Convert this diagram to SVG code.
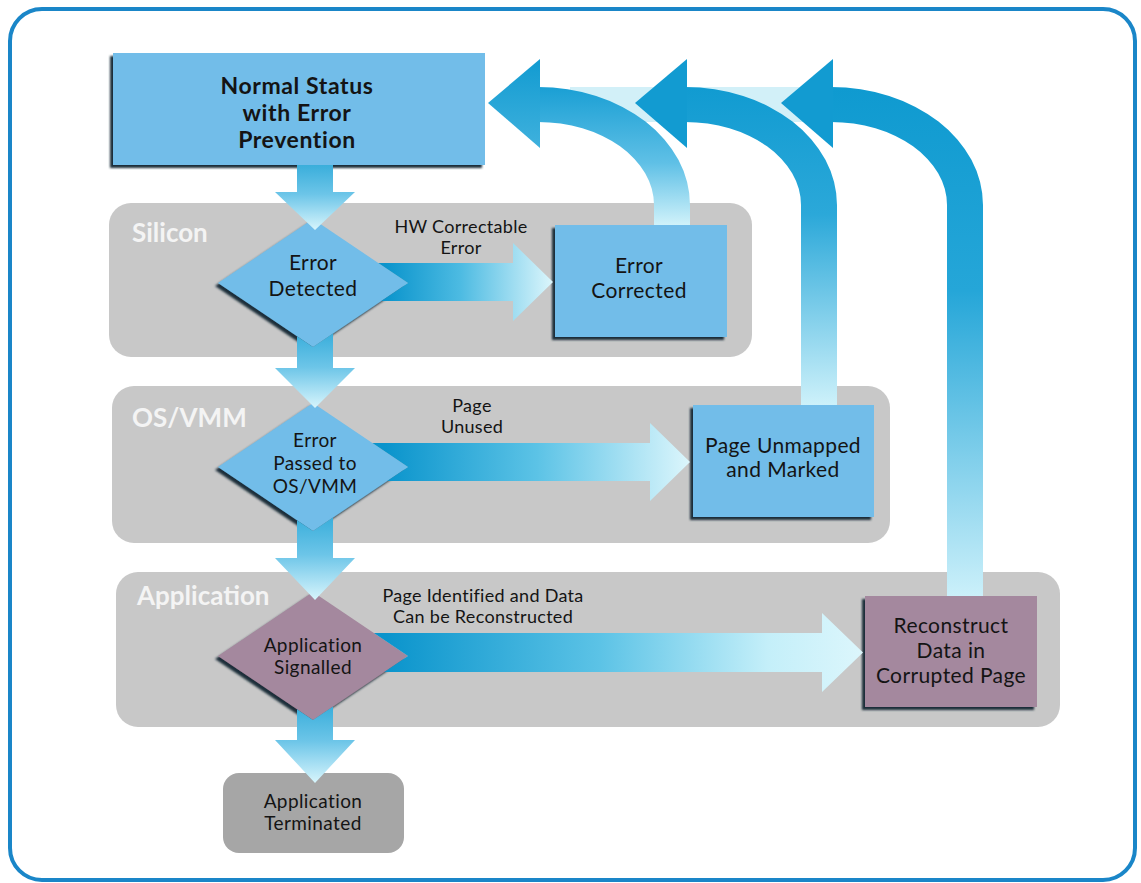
<svg xmlns="http://www.w3.org/2000/svg" width="1141" height="883" viewBox="0 0 1141 883">
  <style>
    .lane { fill: #c8c8c8; }
    .lane-label { font-family: Lato, "Liberation Sans", sans-serif; font-weight: 700; font-size: 26px; fill: #f4f4f4; }
    .node-text { font-family: Lato, "Liberation Sans", sans-serif; font-size: 21px; letter-spacing: 0.4px; fill: #141414; text-anchor: middle; }
    .small { font-size: 19px; }
    .title { font-weight: 700; font-size: 23px; letter-spacing: 0.6px; }
    .edge-label { font-family: Lato, "Liberation Sans", sans-serif; font-size: 18px; letter-spacing: 0.3px; fill: #141414; text-anchor: middle; }
    .blue { fill: #72bde9; }
    .mauve { fill: #a4889e; }
    .head { fill: #129bd1; }
  </style>
  <defs>
    <filter id="bevel" x="-10%" y="-10%" width="120%" height="125%">
      <feGaussianBlur in="SourceAlpha" stdDeviation="1.2" result="b"/>
      <feOffset in="b" dx="-3" dy="3" result="o"/>
      <feFlood flood-color="#1c2f3a"/>
      <feComposite in2="o" operator="in" result="s"/>
      <feMerge><feMergeNode in="s"/><feMergeNode in="SourceGraphic"/></feMerge>
    </filter>
    <linearGradient id="down" x1="0" y1="0" x2="0" y2="1">
      <stop offset="0" stop-color="#3aaedb"/>
      <stop offset="0.45" stop-color="#6cc5e8"/>
      <stop offset="1" stop-color="#d8f5fc"/>
    </linearGradient>
    <linearGradient id="h1" gradientUnits="userSpaceOnUse" x1="385" y1="0" x2="553" y2="0">
      <stop offset="0" stop-color="#0a94cc"/>
      <stop offset="0.45" stop-color="#4dbbe2"/>
      <stop offset="1" stop-color="#dcf6fc"/>
    </linearGradient>
    <linearGradient id="h2" gradientUnits="userSpaceOnUse" x1="385" y1="0" x2="690" y2="0">
      <stop offset="0" stop-color="#0a94cc"/>
      <stop offset="0.5" stop-color="#5cc3e6"/>
      <stop offset="1" stop-color="#dcf6fc"/>
    </linearGradient>
    <linearGradient id="h3" gradientUnits="userSpaceOnUse" x1="385" y1="0" x2="863" y2="0">
      <stop offset="0" stop-color="#0a94cc"/>
      <stop offset="0.45" stop-color="#5cc3e6"/>
      <stop offset="0.8" stop-color="#c4eff9"/>
      <stop offset="1" stop-color="#dcf6fc"/>
    </linearGradient>
    <linearGradient id="r1" gradientUnits="userSpaceOnUse" x1="0" y1="87" x2="0" y2="225">
      <stop offset="0" stop-color="#1a9fd4"/>
      <stop offset="0.55" stop-color="#5fc0e6"/>
      <stop offset="1" stop-color="#d0f2fa"/>
    </linearGradient>
    <linearGradient id="r2" gradientUnits="userSpaceOnUse" x1="0" y1="87" x2="0" y2="405">
      <stop offset="0" stop-color="#119bd1"/>
      <stop offset="0.4" stop-color="#2ba8d9"/>
      <stop offset="1" stop-color="#cdf1fa"/>
    </linearGradient>
    <linearGradient id="r3" gradientUnits="userSpaceOnUse" x1="0" y1="87" x2="0" y2="596">
      <stop offset="0" stop-color="#0f9ad0"/>
      <stop offset="0.4" stop-color="#25a6d8"/>
      <stop offset="1" stop-color="#cbf0fa"/>
    </linearGradient>
    <linearGradient id="head1" x1="0" y1="0" x2="0" y2="1">
      <stop offset="0" stop-color="#129bd1"/>
      <stop offset="1" stop-color="#3fb1dd"/>
    </linearGradient>
  </defs>

  <!-- outer frame -->
  <rect x="10" y="9" width="1125" height="871" rx="32" fill="#ffffff" stroke="#1a86c8" stroke-width="4"/>

  <!-- swim lanes -->
  <g id="lane-silicon">
    <rect class="lane" x="109" y="203" width="643" height="154" rx="22"/>
    <text class="lane-label" x="132" y="242">Silicon</text>
  </g>
  <g id="lane-os-vmm">
    <rect class="lane" x="112" y="386" width="778" height="157" rx="22"/>
    <text class="lane-label" x="132" y="427">OS/VMM</text>
  </g>
  <g id="lane-application">
    <rect class="lane" x="116" y="572" width="944" height="155" rx="22"/>
    <text class="lane-label" x="137" y="605">Application</text>
  </g>

  <!-- nodes -->
  <g id="node-normal-status">
    <rect class="blue" x="113" y="53" width="372" height="112" filter="url(#bevel)"/>
    <text class="node-text title" x="297" y="94">Normal Status</text>
    <text class="node-text title" x="297" y="121">with Error</text>
    <text class="node-text title" x="297" y="148">Prevention</text>
  </g>
  <g id="node-error-detected">
    <polygon class="blue" points="313,219 408,283 313,347 218,283" filter="url(#bevel)"/>
    <text class="node-text" x="313" y="270">Error</text>
    <text class="node-text" x="313" y="296">Detected</text>
  </g>
  <g id="node-error-corrected">
    <rect class="blue" x="555" y="225" width="172" height="112" filter="url(#bevel)"/>
    <text class="node-text" x="639" y="273">Error</text>
    <text class="node-text" x="639" y="298">Corrected</text>
  </g>
  <g id="node-error-passed">
    <polygon class="blue" points="313,403 408,467 313,531 218,467" filter="url(#bevel)"/>
    <text class="node-text small" x="315" y="447">Error</text>
    <text class="node-text small" x="315" y="470">Passed to</text>
    <text class="node-text small" x="315" y="493">OS/VMM</text>
  </g>
  <g id="node-page-unmapped">
    <rect class="blue" x="693" y="405" width="181" height="112" filter="url(#bevel)"/>
    <text class="node-text" x="783" y="453">Page Unmapped</text>
    <text class="node-text" x="783" y="477">and Marked</text>
  </g>
  <g id="node-application-signalled">
    <polygon class="mauve" points="313,592 408,656 313,720 218,656" filter="url(#bevel)"/>
    <text class="node-text small" x="313" y="652">Application</text>
    <text class="node-text small" x="313" y="674">Signalled</text>
  </g>
  <g id="node-reconstruct">
    <rect class="mauve" x="865" y="596" width="172" height="111" filter="url(#bevel)"/>
    <text class="node-text" x="951" y="633">Reconstruct</text>
    <text class="node-text" x="951" y="658">Data in</text>
    <text class="node-text" x="951" y="683">Corrupted Page</text>
  </g>
  <g id="node-application-terminated">
    <rect x="223" y="773" width="181" height="80" rx="16" fill="#a6a6a6"/>
    <text class="node-text small" x="313" y="808">Application</text>
    <text class="node-text small" x="313" y="830">Terminated</text>
  </g>

  <!-- connectors -->
  <g id="connectors">
    <!-- pale band behind the return arrows -->
    <rect x="570" y="87" width="235" height="35" fill="#d2f0f8"/>

    <!-- return arrows back to normal status -->
    <path d="M538,87 A152,118 0 0 1 690,205 V225 H654 V205 A116,83 0 0 0 538,122 Z" fill="url(#r1)"/>
    <polygon points="488,103 540,59 540,148" fill="url(#head1)"/>

    <path d="M685,87 A152,118 0 0 1 837,205 V405 H801 V205 A116,83 0 0 0 685,122 Z" fill="url(#r2)"/>
    <polygon class="head" points="635,103 687,59 687,148"/>

    <path d="M831,87 A152,118 0 0 1 983,205 V596 H947 V205 A116,83 0 0 0 831,122 Z" fill="url(#r3)"/>
    <polygon class="head" points="781,103 833,59 833,148"/>

    <!-- forward arrows -->
    <polygon points="378.3,263 513,263 513,243 553,282 513,321 513,301 381.3,301 408,283" fill="url(#h1)"/>
    <polygon points="372.4,443 650,443 650,423 690,462 650,501 650,481 387.2,481 408,467" fill="url(#h2)"/>
    <polygon points="373.9,633 822,633 822,613 863,652.5 822,692 822,672 384.3,672 408,656" fill="url(#h3)"/>

    <!-- downward arrows -->
    <polygon points="297,165 333,165 333,192 355,192 315,230 275,192 297,192" fill="url(#down)"/>
    <polygon points="297,336.2 313,347 333,333.5 333,368 355,368 315,408 275,368 297,368" fill="url(#down)"/>
    <polygon points="297,520.2 313,531 333,517.5 333,558 355,558 315,600 275,558 297,558" fill="url(#down)"/>
    <polygon points="297,709.2 313,720 333,706.5 333,740 355,740 315,783 275,740 297,740" fill="url(#down)"/>
  </g>

  <!-- edge labels -->
  <g id="edge-labels">
    <text class="edge-label" x="461" y="233">HW Correctable</text>
    <text class="edge-label" x="461" y="254">Error</text>
    <text class="edge-label" x="472" y="412">Page</text>
    <text class="edge-label" x="472" y="433">Unused</text>
    <text class="edge-label" x="483" y="602">Page Identified and Data</text>
    <text class="edge-label" x="483" y="623">Can be Reconstructed</text>
  </g>
</svg>
